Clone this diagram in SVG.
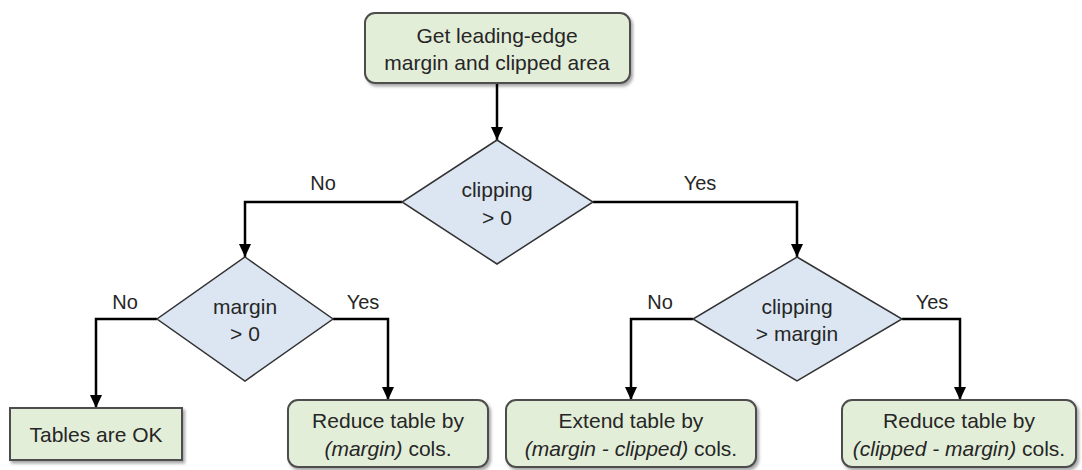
<svg xmlns="http://www.w3.org/2000/svg" width="1082" height="470" viewBox="0 0 1082 470">
  <style>
    text { font-family: "Liberation Sans", Arial, sans-serif; font-size: 21px; fill: #262626; text-anchor: middle; }
    .lbl { font-size: 20px; }
    .it { font-style: italic; }
    .box { fill: #e3eed9; stroke: #4d4d4d; stroke-width: 2; filter: url(#sh); }
    .dia { fill: #dce6f2; stroke: #333333; stroke-width: 1.5; }
    .conn { fill: none; stroke: #000000; stroke-width: 2.5; marker-end: url(#arr); }
  </style>
  <defs>
    <marker id="arr" markerUnits="userSpaceOnUse" markerWidth="14" markerHeight="14" viewBox="0 0 14 14" refX="13" refY="7" orient="auto">
      <path d="M0,1 L13,7 L0,13 z" fill="#000000"/>
    </marker>
    <filter id="sh" x="-10%" y="-20%" width="130%" height="150%">
      <feDropShadow dx="2" dy="2.5" stdDeviation="1.5" flood-color="#000000" flood-opacity="0.35"/>
    </filter>
  </defs>
  <rect width="1082" height="470" fill="#ffffff"/>

  <g id="connectors">
    <path class="conn" d="M497,84 V140"/>
    <path class="conn" d="M402,202 H245 V257"/>
    <path class="conn" d="M593,202 H797 V257"/>
    <path class="conn" d="M157,319 H96 V408"/>
    <path class="conn" d="M333,319 H388 V400"/>
    <path class="conn" d="M693,319 H631 V400"/>
    <path class="conn" d="M902,319 H960 V400"/>
    <text class="lbl" x="323" y="190">No</text>
    <text class="lbl" x="700" y="190">Yes</text>
    <text class="lbl" x="125" y="309">No</text>
    <text class="lbl" x="363" y="309">Yes</text>
    <text class="lbl" x="660" y="309">No</text>
    <text class="lbl" x="932" y="309">Yes</text>
  </g>

  <g id="start">
    <rect class="box" x="365" y="13" width="265" height="70" rx="10" stroke-width="2.5"/>
    <text x="497" y="43">Get leading-edge</text>
    <text x="497" y="70">margin and clipped area</text>
  </g>

  <g id="clipping">
    <polygon class="dia" points="497,140 593,202 497,264 402,202"/>
    <text x="497" y="197">clipping</text>
    <text x="497" y="225">&gt; 0</text>
  </g>

  <g id="margin">
    <polygon class="dia" points="245,257 333,319 245,381 157,319"/>
    <text x="245" y="314">margin</text>
    <text x="245" y="341">&gt; 0</text>
  </g>

  <g id="clipmargin">
    <polygon class="dia" points="797,257 902,319 797,381 693,319"/>
    <text x="797" y="314">clipping</text>
    <text x="797" y="341">&gt; margin</text>
  </g>

  <g id="tablesok">
    <rect class="box" x="10" y="408" width="172" height="52"/>
    <text x="96" y="442">Tables are OK</text>
  </g>

  <g id="reduce1">
    <rect class="box" x="288" y="400" width="200" height="67" rx="10"/>
    <text x="388" y="428">Reduce table by</text>
    <text x="388" y="456"><tspan class="it">(margin)</tspan> cols.</text>
  </g>

  <g id="extend">
    <rect class="box" x="506" y="400" width="250" height="67" rx="10"/>
    <text x="631" y="428">Extend table by</text>
    <text x="631" y="456"><tspan class="it">(margin - clipped)</tspan> cols.</text>
  </g>

  <g id="reduce2">
    <rect class="box" x="842" y="400" width="234" height="67" rx="10"/>
    <text x="959" y="428">Reduce table by</text>
    <text x="959" y="456"><tspan class="it">(clipped - margin)</tspan> cols.</text>
  </g>
</svg>
